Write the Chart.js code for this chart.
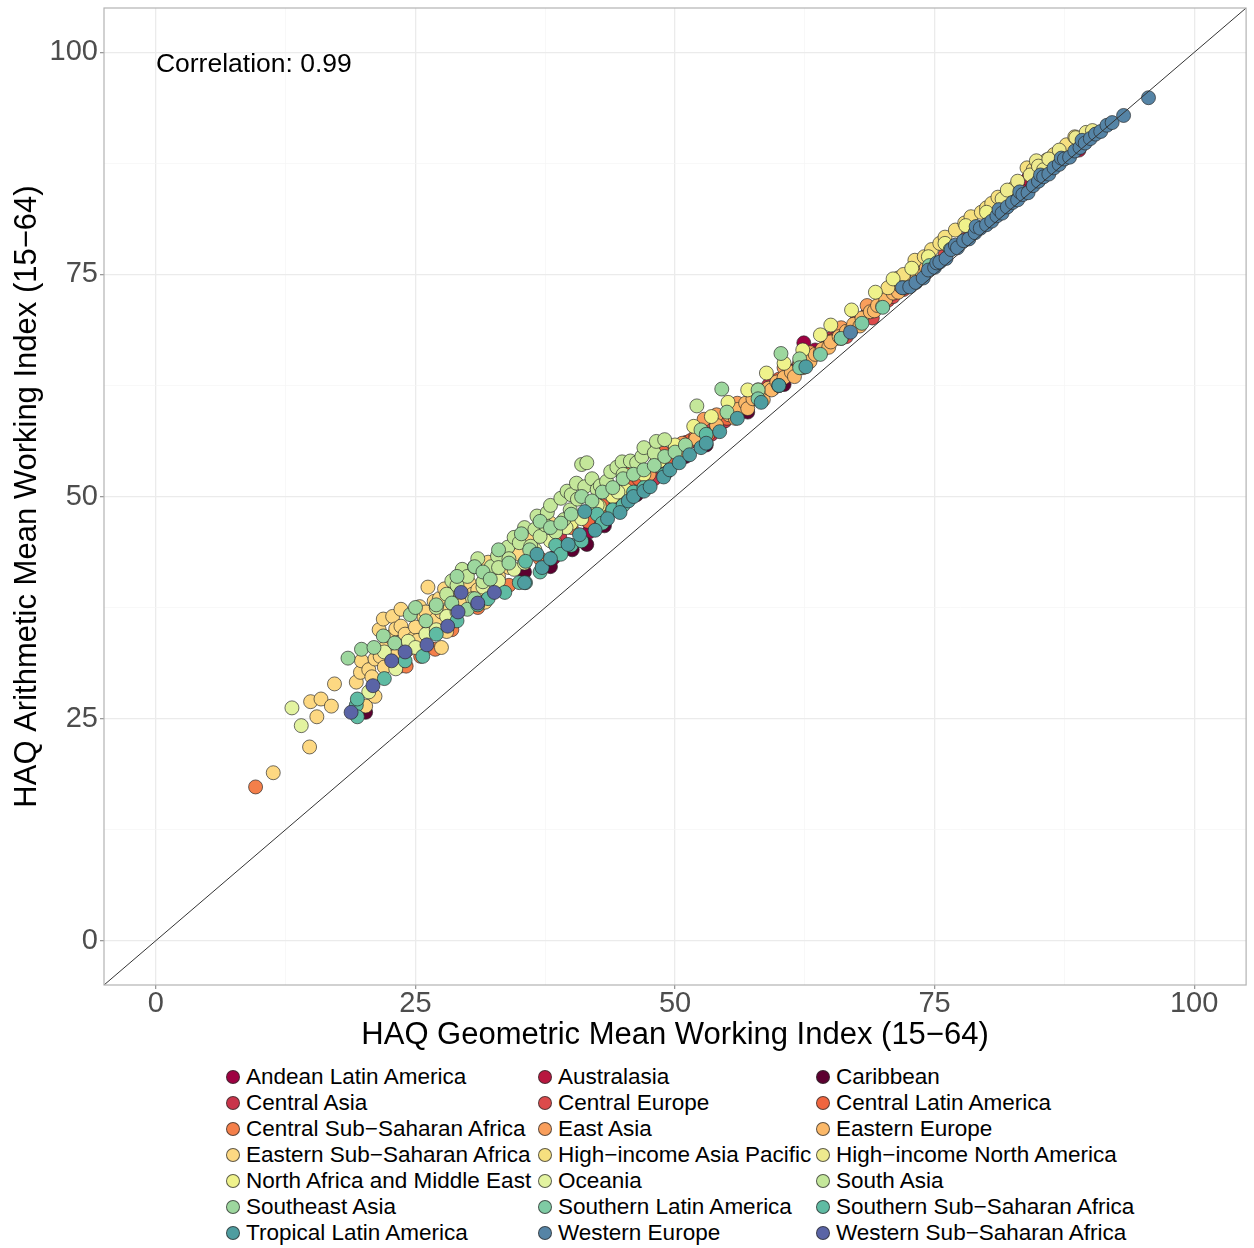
<!DOCTYPE html>
<html>
<head>
<meta charset="utf-8">
<script src="https://cdn.jsdelivr.net/npm/chart.js@4"></script>
<style>
html,body{margin:0;padding:0;background:#fff;}
#wrap{position:relative;width:1254px;height:1248px;overflow:hidden;}
#cv{position:absolute;left:0;top:0;}
#legend{position:absolute;left:226px;top:1064px;display:grid;grid-template-columns:312px 278px auto;grid-auto-rows:26px;font-family:"Liberation Sans",Arial,Helvetica,sans-serif;font-size:22.5px;color:#000;}
.item{display:flex;align-items:center;white-space:nowrap;}
.dot{width:14px;height:14px;border-radius:50%;border:1px solid rgba(45,45,45,0.75);box-sizing:border-box;margin-right:6px;flex:none;}
</style>
</head>
<body>
<div id="wrap">
<canvas id="cv" width="1254" height="1062"></canvas>
<div id="legend"></div>
</div>
<script>
// ---------- data ----------
const regionNames = ["Andean Latin America","Australasia","Caribbean","Central Asia","Central Europe","Central Latin America","Central Sub\u2212Saharan Africa","East Asia","Eastern Europe","Eastern Sub\u2212Saharan Africa","High\u2212income Asia Pacific","High\u2212income North America","North Africa and Middle East","Oceania","South Asia","Southeast Asia","Southern Latin America","Southern Sub\u2212Saharan Africa","Tropical Latin America","Western Europe","Western Sub\u2212Saharan Africa"];
const regionColors = ["#9e0142","#b8173f","#5c0030","#c9344a","#dc4a4b","#f0653f","#f47f4a","#f99e5b","#fbb868","#fdd882","#f6e07f","#eeea8e","#eff28b","#e3f3a0","#c4e79a","#9dd79e","#7fcba4","#5fbba3","#4e9da0","#5584a6","#5a64a6"];

const andeanLatinAmerica = [[38.3,43.1],[41.7,46.0],[43.0,47.5],[44.5,49.0],[46.5,51.2],[49.0,53.5],[52.1,56.2],[54.5,58.3],[56.0,59.6],[58.5,61.8],[59.5,62.5],[61.0,64.2],[62.4,67.3],[63.5,66.5]];
const australasia = [[83.2,85.2],[84.0,85.8],[85.0,86.6],[86.0,87.3],[86.5,88.0],[87.5,88.6],[88.5,89.2],[88.9,89.0]];
const caribbean = [[20.2,25.7],[35.5,41.5],[38.0,42.1],[40.1,44.0],[41.5,44.6],[43.2,46.7],[44.2,48.8],[46.3,50.2],[47.5,51.5],[49.2,52.8],[51.0,54.5],[53.0,55.8],[57.0,59.5],[60.5,62.6],[64.5,66.8],[68.5,70.5],[72.5,74.3]];
const centralAsia = [[38.9,45.4],[42.5,47.8],[45.0,49.5],[48.0,52.0],[50.5,54.5],[53.5,57.0],[54.8,58.5],[56.5,60.0],[59.0,62.5],[62.0,65.0],[65.0,67.8],[67.5,69.8]];
const centralEurope = [[47.0,52.0],[51.1,56.1],[53.5,57.5],[56.0,59.8],[59.5,62.2],[61.0,63.8],[63.0,65.5],[65.5,67.8],[66.5,68.0],[67.5,69.6],[69.0,70.1],[70.5,72.1],[71.0,72.5],[72.0,73.3],[73.0,74.2],[74.0,75.0],[76.0,77.2],[78.0,79.0]];
const centralLatinAmerica = [[38.4,44.9],[41.6,47.2],[43.0,49.0],[44.1,50.8],[45.4,52.5],[45.8,51.5],[46.5,52.0],[47.1,52.8],[48.2,53.8],[48.9,54.9],[49.5,54.2],[50.0,55.5],[51.5,56.3],[52.0,56.8],[53.2,57.0],[54.0,58.2],[55.0,58.8],[56.5,60.2],[57.5,61.0],[60.0,63.2],[62.5,65.5],[65.0,67.5]];
const centralSubSaharanAfrica = [[9.6,17.3],[23.5,30.9],[24.1,30.9],[25.5,32.0],[26.9,32.8],[28.5,35.0],[31.0,37.5],[34.0,40.0],[37.0,43.0],[40.0,46.5]];
const eastAsia = [[43.3,47.6],[45.2,49.8],[47.5,52.5],[50.1,55.5],[50.7,56.0],[52.8,58.7],[54.0,59.2],[56.0,60.5],[58.0,62.0],[60.5,64.5],[63.0,66.2],[66.0,69.0],[68.5,71.5],[71.0,74.0],[74.5,76.8]];
const easternEurope = [[50.5,55.0],[52.0,56.5],[54.0,58.0],[55.2,59.2],[55.8,58.8],[56.0,59.8],[56.8,60.5],[57.0,59.9],[57.5,61.0],[58.3,61.5],[58.5,60.9],[59.0,62.2],[59.3,62.0],[59.8,62.9],[60.0,62.5],[60.5,63.4],[61.2,64.0],[61.5,63.5],[62.0,64.8],[62.3,64.5],[62.8,65.3],[63.0,65.2],[63.5,66.0],[64.0,66.2],[64.2,66.6],[64.8,66.8],[65.0,67.4],[65.8,68.0],[66.0,67.8],[66.5,68.6],[67.0,68.8],[67.2,69.4],[67.8,69.2],[68.0,70.1],[68.8,70.8],[69.2,70.9],[69.5,71.5],[70.0,71.4],[70.3,72.2],[71.0,72.9],[71.5,73.0],[71.8,73.6],[72.5,74.2],[73.3,75.0],[73.8,75.2],[74.2,75.8]];
const easternSubSaharanAfrica = [[11.3,18.9],[14.8,21.8],[14.9,26.9],[15.5,25.2],[15.9,27.2],[16.9,26.4],[17.2,28.9],[19.3,29.1],[19.7,30.2],[19.8,31.5],[20.2,26.4],[20.5,30.5],[20.8,29.7],[21.1,27.5],[21.1,31.7],[21.5,35.0],[21.6,32.0],[21.9,36.2],[22.0,30.8],[22.1,33.0],[22.6,34.2],[22.8,36.5],[23.0,32.0],[23.1,35.1],[23.6,35.4],[23.6,37.3],[24.0,34.5],[24.3,32.8],[24.8,34.0],[25.0,35.3],[25.2,33.8],[25.4,37.6],[25.8,36.5],[26.0,37.0],[26.2,35.8],[26.2,39.8],[26.5,35.3],[26.8,38.2],[27.0,36.2],[27.3,38.5],[27.5,33.0],[27.5,37.0],[27.8,39.6],[28.0,34.8],[28.3,37.3],[28.8,39.6],[29.0,38.0],[29.4,40.9],[29.5,37.8],[30.0,41.5],[30.2,40.2],[30.5,39.0],[31.0,39.5],[31.7,38.1],[32.0,42.6],[32.5,41.5],[33.0,41.0],[33.7,42.7],[34.0,42.0],[34.5,44.0],[35.0,43.5],[36.0,45.5],[38.0,47.0]];
const highIncomeAsiaPacific = [[70.5,73.5],[71.5,74.6],[72.0,75.0],[73.1,76.6],[74.0,77.0],[74.7,77.8],[75.5,78.5],[76.0,79.2],[77.0,80.0],[77.9,80.8],[78.5,81.5],[79.5,82.0],[80.0,82.5],[80.5,83.0],[81.1,83.7],[82.0,84.2],[82.7,84.8],[83.9,87.0],[84.5,86.8],[85.0,87.5],[85.8,87.9],[86.5,88.5],[87.7,89.6],[88.5,90.5]];
const highIncomeNorthAmerica = [[81.5,83.5],[82.0,84.5],[83.0,85.5],[84.2,86.2],[84.8,87.8],[85.0,87.2],[85.5,86.8],[86.0,88.0],[87.0,89.0],[88.6,90.4],[89.6,91.0],[90.2,91.2]];
const northAfricaMiddleEast = [[40.0,47.0],[42.7,48.9],[44.0,50.0],[45.3,50.7],[47.0,52.5],[48.5,54.0],[50.0,55.8],[51.8,57.9],[53.5,59.0],[55.1,60.6],[57.0,62.0],[58.8,63.9],[60.5,65.0],[62.3,66.5],[64.0,68.2],[65.0,69.3],[67.0,71.0],[69.3,73.0],[71.0,74.5],[72.8,75.7],[74.4,77.0],[76.0,78.5],[78.0,80.5],[80.0,82.0]];
const oceania = [[13.1,26.2],[14.0,24.2],[20.5,28.0],[22.0,32.5],[23.1,30.6],[24.3,33.7],[25.0,33.0],[26.0,34.5],[27.0,35.0],[28.0,36.5],[29.0,37.0],[30.5,38.5],[31.5,39.8],[33.0,40.5],[34.5,41.8],[35.5,42.5],[36.5,44.0],[38.0,45.0],[39.5,46.5],[41.0,47.5],[42.5,49.0],[44.5,50.5]];
const southAsia = [[27.0,37.5],[28.0,39.0],[28.5,40.5],[29.0,40.0],[29.5,41.8],[30.0,41.0],[30.7,42.1],[31.0,43.0],[31.5,40.4],[32.3,42.1],[32.9,43.3],[33.0,42.0],[33.9,44.3],[34.0,43.0],[34.5,45.4],[35.0,44.8],[35.5,46.5],[36.1,44.4],[36.5,46.3],[36.7,47.8],[37.0,45.5],[37.5,46.8],[37.7,48.2],[38.0,49.0],[38.5,46.0],[39.0,49.8],[39.3,47.4],[39.6,50.6],[39.9,48.5],[40.0,50.2],[40.5,51.5],[40.6,49.7],[41.0,53.6],[41.3,51.1],[41.5,53.8],[42.0,52.0],[42.5,50.8],[42.8,51.2],[43.4,51.7],[43.8,52.8],[44.4,53.3],[44.9,53.9],[45.0,52.5],[45.7,54.0],[46.3,53.8],[46.8,54.5],[47.0,55.5],[48.0,54.9],[48.2,56.2],[49.0,56.4],[52.1,60.2]];
const southeastAsia = [[18.5,31.8],[19.8,32.8],[21.0,33.0],[21.9,34.3],[23.0,33.5],[24.5,36.7],[25.0,37.5],[26.0,36.0],[27.0,37.8],[28.5,38.0],[29.0,41.0],[30.0,37.3],[30.7,38.5],[30.7,42.1],[31.5,41.5],[32.2,40.7],[33.0,44.0],[34.0,42.5],[35.2,45.8],[36.0,44.0],[37.0,47.2],[38.0,46.5],[39.0,47.0],[40.0,48.0],[41.0,50.0],[42.0,49.5],[43.0,50.5],[44.0,51.0],[45.0,52.0],[46.0,52.5],[47.0,53.0],[48.0,53.5],[49.0,54.5],[50.0,55.0],[51.0,55.8],[52.5,57.5],[54.5,62.1],[55.0,59.5],[58.0,62.0],[60.2,66.1],[62.0,65.5]];
const southernLatinAmerica = [[58.0,61.0],[60.0,62.5],[62.0,64.5],[64.0,66.0],[66.0,67.8],[68.0,69.5],[70.0,71.3],[72.0,73.5],[74.5,76.0],[76.5,77.8]];
const southernSubSaharanAfrica = [[19.3,26.5],[19.4,25.2],[19.4,27.2],[22.0,29.5],[24.0,31.5],[25.7,32.0],[27.0,34.5],[29.0,36.0],[31.0,37.8],[32.0,38.5],[33.6,39.2],[35.0,40.3],[35.6,40.3],[35.6,42.7],[37.0,41.5],[38.5,44.5],[39.0,43.5],[40.0,44.5],[41.0,45.0],[42.5,48.0],[43.0,47.0],[44.0,48.5],[45.0,49.0],[46.0,50.5],[47.0,51.0],[49.0,52.5],[53.0,57.0]];
const tropicalLatinAmerica = [[35.5,40.3],[36.7,43.5],[37.2,42.0],[38.0,43.0],[39.7,44.6],[40.8,45.7],[41.3,48.3],[42.3,46.2],[43.5,47.5],[44.7,48.2],[45.5,49.5],[46.0,50.0],[47.0,50.6],[47.6,51.1],[48.9,52.2],[49.5,53.0],[50.4,53.8],[51.4,54.7],[52.5,55.5],[53.0,56.0],[54.3,57.3],[56.0,58.8],[58.3,60.6],[60.0,62.5],[62.6,64.6]];
const westernEurope = [[66.9,68.5],[71.9,73.5],[72.6,73.6],[73.2,74.1],[73.9,74.6],[74.4,75.5],[75.0,75.8],[75.2,76.3],[75.5,76.4],[76.1,76.8],[76.6,77.8],[77.0,78.3],[77.2,78.0],[77.8,78.8],[78.3,79.0],[78.9,79.7],[79.0,80.4],[79.4,80.2],[80.0,80.6],[80.5,81.0],[81.0,81.6],[81.2,82.3],[81.5,81.9],[82.0,82.6],[82.5,83.1],[83.0,83.4],[83.2,84.3],[83.5,84.0],[84.0,84.2],[84.5,85.0],[85.0,85.5],[85.2,86.2],[85.5,86.0],[86.0,86.3],[86.5,87.0],[87.0,87.4],[87.2,88.1],[87.5,88.0],[88.0,88.2],[88.5,88.9],[89.0,89.3],[89.2,90.1],[89.5,89.8],[90.0,90.3],[90.5,90.8],[91.0,91.1],[91.6,91.8],[92.1,92.1],[93.2,92.9],[95.6,94.9]];
const westernSubSaharanAfrica = [[18.8,25.7],[20.9,28.7],[22.7,31.5],[24.0,32.5],[26.1,33.3],[28.1,35.4],[29.1,37.0],[29.4,39.2],[31.0,38.0],[32.6,39.2]];

const regionPoints = [andeanLatinAmerica,australasia,caribbean,centralAsia,centralEurope,centralLatinAmerica,centralSubSaharanAfrica,eastAsia,easternEurope,easternSubSaharanAfrica,highIncomeAsiaPacific,highIncomeNorthAmerica,northAfricaMiddleEast,oceania,southAsia,southeastAsia,southernLatinAmerica,southernSubSaharanAfrica,tropicalLatinAmerica,westernEurope,westernSubSaharanAfrica];

const identityLine = [-5, 105];
const majorTicks = [0, 25, 50, 75, 100];
const tickLabels = ["0", "25", "50", "75", "100"];
const minorTicks = [12.5, 37.5, 62.5, 87.5];
const xTitle = "HAQ Geometric Mean Working Index (15\u221264)";
const yTitle = "HAQ Arithmetic Mean Working Index (15\u221264)";
const corrText = "Correlation: 0.99";
const corrAt = [0, 98.6];

// ---------- chart ----------
const FONT = '"Liberation Sans", Arial, Helvetica, sans-serif';
const isMajor = v => majorTicks.indexOf(v) >= 0;
const allTicks = majorTicks.concat(minorTicks).sort((a,b)=>a-b);

const datasets = regionPoints.map((pts, i) => ({
  label: regionNames[i],
  data: pts.map(p => ({x: p[0], y: p[1]})),
  backgroundColor: regionColors[i],
  borderColor: 'rgba(40,40,40,0.75)',
  borderWidth: 0.9,
  pointRadius: 7,
  pointHoverRadius: 7,
  order: 100 - i
}));
datasets.push({
  label: 'identity',
  data: identityLine.map(v => ({x: v, y: v})),
  showLine: true,
  borderColor: '#333333',
  borderWidth: 1,
  pointRadius: 0,
  order: 0
});

function axis(isX) {
  return {
    type: 'linear', min: -5, max: 105,
    afterBuildTicks: s => { s.ticks = allTicks.map(v => ({value: v})); },
    afterFit: s => {
      if (isX) s.height = 77; else s.width = 104;
      s.paddingTop = 0; s.paddingBottom = 0; s.paddingLeft = 0; s.paddingRight = 0;
    },
    border: {display: false},
    grid: {
      color: c => isMajor(c.tick.value) ? '#ebebeb' : '#f5f5f5',
      lineWidth: c => isMajor(c.tick.value) ? 1.3 : 0.7,
      tickColor: c => isMajor(c.tick.value) ? '#999999' : 'rgba(0,0,0,0)',
      tickLength: 4,
      drawTicks: true
    },
    ticks: {
      autoSkip: false, maxRotation: 0,
      callback: v => { const k = majorTicks.indexOf(v); return k >= 0 ? tickLabels[k] : ''; },
      font: {family: FONT, size: 29, lineHeight: 1},
      color: '#4d4d4d',
      padding: isX ? 0 : 2
    },
    title: {
      display: true,
      text: isX ? xTitle : yTitle,
      color: '#000',
      font: {family: FONT, size: 31},
      padding: isX ? {top: 0, bottom: 8} : {top: 9, bottom: 0}
    }
  };
}

const framePlugin = {
  id: 'frame',
  afterDatasetsDraw(chart) {
    const {ctx, chartArea: a, scales} = chart;
    ctx.save();
    ctx.strokeStyle = '#b3b3b3';
    ctx.lineWidth = 1.2;
    ctx.strokeRect(a.left, a.top, a.right - a.left, a.bottom - a.top);
    ctx.font = '26.5px ' + FONT;
    ctx.fillStyle = '#000';
    ctx.textAlign = 'left';
    ctx.textBaseline = 'middle';
    ctx.fillText(corrText, scales.x.getPixelForValue(corrAt[0]), scales.y.getPixelForValue(corrAt[1]));
    ctx.restore();
  }
};

new Chart(document.getElementById('cv'), {
  type: 'scatter',
  data: {datasets},
  options: {
    responsive: false,
    animation: false,
    layout: {padding: {top: 8, right: 1, left: 0, bottom: 0}},
    plugins: {legend: {display: false}, tooltip: {enabled: false}},
    scales: {x: axis(true), y: axis(false)}
  },
  plugins: [framePlugin]
});

// ---------- legend ----------
const leg = document.getElementById('legend');
regionNames.forEach((n, i) => {
  const it = document.createElement('div');
  it.className = 'item';
  const d = document.createElement('span');
  d.className = 'dot';
  d.style.background = regionColors[i];
  const t = document.createElement('span');
  t.textContent = n;
  it.appendChild(d); it.appendChild(t);
  leg.appendChild(it);
});
</script>
</body>
</html>
